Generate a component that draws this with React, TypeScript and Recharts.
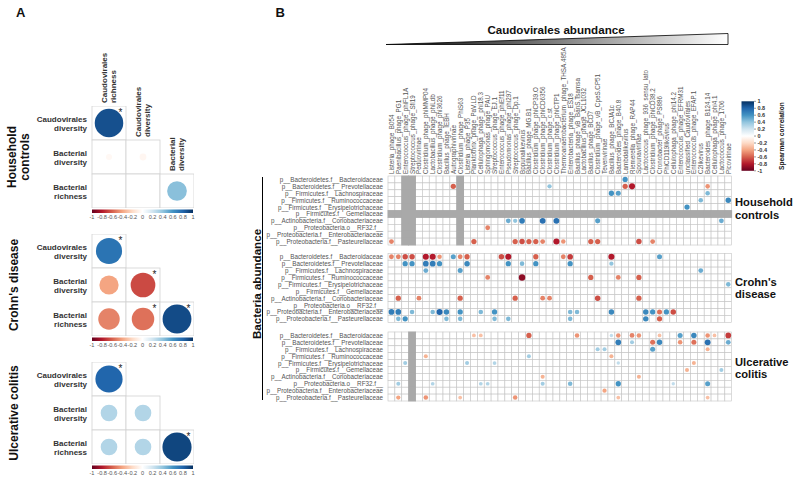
import React from 'react';
import { ScatterChart, Scatter, XAxis, YAxis } from 'recharts';

const FONT = '"Liberation Sans", Arial, Helvetica, sans-serif';

// ---------- Panel B data ----------
const phageColumns = [
  'Listeria_phage_B054', 'Paenibacillus_phage_PG1', 'Enterococcus_phage_phiFL1A', 'Streptococcus_phage_Sfi19',
  'Peduovirinae', 'Clostridium_phage_phiMMP04', 'Lactobacillus_phage_phiLdb', 'Clostridium_phage_phi3626',
  'Bacillus_phage_IEBH', 'Autographivirinae', 'Clostridium_phage_PhiS63', 'Listeria_phage_P35',
  'Planktothrix_phage_PaV.LD', 'Cellulophaga_phage_phi18.3', 'Sphingomonas_phage_PAU', 'Streptococcus_phage_EJ.1',
  'Enterococcus_phage_phiEf11', 'Pseudomonas_phage_phi297', 'Streptococcus_phage_Dp.1', 'Bppunalikevirus',
  'Bacillus_phage_MG.B1', 'Clostridium_phage_phiCP39.O', 'Clostridium_phage_phiCD6356', 'Clostridium_phage_c.st',
  'Clostridium_phage_phiCTP1', 'Thermoanaerobacterium_phage_THSA.485A', 'Enterobacteria_phage_ES18',
  'Bacillus_phage_vB_BanS.Tsamsa', 'Lactobacillus_phage_JCL1032', 'Bacillus_phage_BCD7',
  'Clostridium_phage_vB_CpeS.CP51', 'Tevenvirinae', 'Bacillus_phage_BCJA1c', 'Bacteroides_phage_B40.8',
  'Lambdalikevirus', 'Riemerella_phage_RAP44', 'Spounavirinae', 'Lactococcus_phage_936_sensu_lato',
  'Clostridium_phage_phiCD38.2', 'Cronobacter_phage_PS886', 'PhiCD119likevirus', 'Cellulophaga_phage_phi14.2',
  'Enterococcus_phage_EFRM31', 'unclassified_Caudovirales', 'Enterococcus_phage_EFAP.1', 'C2likevirus',
  'Bacteroides_phage_B124.14', 'Cellulophaga_phage_phi4.1', 'Lactococcus_phage_1706', 'Picovirinae',
];

const bacteriaRows = [
  'p__Bacteroidetes.f__Bacteroidaceae',
  'p__Bacteroidetes.f__Prevotellaceae',
  'p__Firmicutes.f__Lachnospiraceae',
  'p__Firmicutes.f__Ruminococcaceae',
  'p__Firmicutes.f__Erysipelotrichaceae',
  'p__Firmicutes.f__Gemellaceae',
  'p__Actinobacteria.f__Coriobacteriaceae',
  'p__Proteobacteria.o__RF32.f__',
  'p__Proteobacteria.f__Enterobacteriaceae',
  'p__Proteobacteria.f__Pasteurellaceae',
];

// [row, column, spearman rho]
const householdDots: [number, number, number][] = [
  [0, 34, 0.6],
  [1, 9, -0.6], [1, 23, 0.4], [1, 34, -0.6], [1, 35, -0.8], [1, 46, -0.45],
  [2, 32, 0.6], [2, 33, 0.55], [2, 46, 0.45],
  [3, 45, 0.45], [3, 49, 0.65],
  [4, 43, 0.6],
  [6, 17, 0.5], [6, 18, 0.4], [6, 19, 0.7], [6, 22, 0.75], [6, 24, 0.75], [6, 30, 0.55], [6, 48, 0.5],
  [7, 14, -0.5],
  [9, 0, -0.5], [9, 12, -0.6], [9, 18, -0.6], [9, 19, -0.65], [9, 20, -0.6], [9, 21, -0.6], [9, 22, -0.5],
  [9, 24, -0.8], [9, 25, -0.45], [9, 29, -0.6], [9, 30, -0.6], [9, 36, -0.65], [9, 38, -0.5],
];

const crohnDots: [number, number, number][] = [
  [0, 0, -0.5], [0, 1, -0.5], [0, 2, -0.65], [0, 3, -0.65], [0, 5, -0.8], [0, 6, -0.8], [0, 7, -0.45],
  [0, 9, 0.55], [0, 10, -0.5], [0, 11, -0.6], [0, 16, -0.65], [0, 17, -0.8], [0, 21, -0.6], [0, 25, -0.5],
  [0, 26, -0.7], [0, 32, -0.8], [0, 39, 0.55],
  [1, 2, 0.6], [1, 3, 0.6], [1, 5, 0.7], [1, 6, 0.7], [1, 7, 0.6], [1, 11, 0.65], [1, 17, 0.6], [1, 19, 0.45],
  [1, 21, 0.6], [1, 26, 0.6], [1, 32, 0.4],
  [2, 5, 0.5], [2, 10, 0.55], [2, 45, 0.5],
  [3, 14, -0.5], [3, 19, -0.9], [3, 29, -0.6], [3, 33, -0.5], [3, 36, -0.6],
  [4, 49, 0.45],
  [6, 1, -0.6], [6, 4, -0.5], [6, 10, -0.6], [6, 18, -0.6], [6, 22, -0.5], [6, 23, -0.5], [6, 30, -0.65], [6, 36, -0.6],
  [8, 0, 0.7], [8, 1, 0.7], [8, 3, 0.45], [8, 6, 0.45], [8, 7, 0.8], [8, 8, 0.65], [8, 10, 0.6], [8, 13, 0.45],
  [8, 15, 0.6], [8, 26, 0.45], [8, 27, 0.45], [8, 32, 0.65], [8, 37, 0.65], [8, 38, 0.6], [8, 39, -0.55],
  [8, 40, 0.6], [8, 41, -0.65],
  [9, 1, 0.45], [9, 2, 0.6], [9, 8, 0.45], [9, 10, 0.45], [9, 15, 0.45], [9, 17, 0.45], [9, 26, 0.45],
  [9, 37, 0.65], [9, 39, -0.6],
];

const ucDots: [number, number, number][] = [
  [0, 12, -0.3], [0, 13, -0.3], [0, 20, -0.6], [0, 27, -0.45], [0, 32, 0.25], [0, 33, -0.45], [0, 35, -0.5],
  [0, 36, -0.45], [0, 39, -0.3], [0, 42, 0.55], [0, 44, 0.65], [0, 46, -0.45], [0, 47, -0.3], [0, 49, -0.7],
  [1, 33, 0.7], [1, 35, 0.35], [1, 38, -0.55], [1, 39, 0.65], [1, 42, -0.45], [1, 44, -0.55], [1, 46, 0.75], [1, 49, 0.5],
  [2, 30, 0.35], [2, 31, 0.35], [2, 38, 0.55], [2, 46, -0.35],
  [3, 5, -0.35], [3, 20, 0.35], [3, 32, -0.35],
  [4, 2, 0.35], [4, 11, 0.35], [4, 15, 0.3], [4, 33, 0.25], [4, 44, -0.35],
  [5, 43, -0.35], [5, 48, 0.35],
  [6, 22, -0.35], [6, 36, -0.35],
  [7, 1, 0.35], [7, 6, 0.3], [7, 13, 0.3], [7, 14, 0.3], [7, 22, 0.35], [7, 26, 0.45], [7, 33, 0.6],
  [7, 41, 0.25], [7, 46, 0.55],
  [8, 31, -0.4],
  [9, 1, -0.4], [9, 5, -0.45], [9, 10, -0.3], [9, 18, -0.45], [9, 33, -0.3], [9, 46, -0.3],
];

// columns / rows with missing values (grey)
const householdGreyCols = [2, 3, 10];
const householdGreyRows = [5];
const crohnGreyCols: number[] = [];
const crohnGreyRows: number[] = [];
const ucGreyCols = [3];
const ucGreyRows: number[] = [];

const groupLabels = [['Household', 'controls'], ["Crohn's", 'disease'], ['Ulcerative', 'colitis']];

// ---------- Panel A data ----------
const diversityRowLabels = [['Caudovirales', 'diversity'], ['Bacterial', 'diversity'], ['Bacterial', 'richness']];
const diversityColLabels = [['Caudovirales', 'richness'], ['Caudovirales', 'diversity'], ['Bacterial', 'diversity']];
// [row, col, rho, significant]
const householdCorr: [number, number, number, boolean][] = [
  [0, 0, 0.88, true], [1, 0, -0.04, false], [1, 1, -0.05, false], [2, 0, 0, false], [2, 1, 0, false], [2, 2, 0.42, false],
];
const crohnCorr: [number, number, number, boolean][] = [
  [0, 0, 0.74, true], [1, 0, -0.4, false], [1, 1, -0.66, true], [2, 0, -0.5, false], [2, 1, -0.55, true], [2, 2, 0.9, true],
];
const ucCorr: [number, number, number, boolean][] = [
  [0, 0, 0.8, true], [1, 0, 0.3, false], [1, 1, 0.3, false], [2, 0, 0.3, false], [2, 1, 0.3, false], [2, 2, 0.92, true],
];
const colorbarTicksA = [-1, -0.8, -0.6, -0.4, -0.2, 0, 0.2, 0.4, 0.6, 0.8, 1];
const colorbarTicksB = [1, 0.8, 0.6, 0.4, 0.2, 0, -0.2, -0.4, -0.6, -0.8, -1];

// ---------- colour ----------
const RDBU = ['#67001F', '#B2182B', '#D6604D', '#F4A582', '#FDDBC7', '#FFFFFF', '#D1E5F0', '#92C5DE', '#4393C3', '#2166AC', '#053061'];
function mixHex(a: string, b: string, t: number) {
  const pa = [1, 3, 5].map((i) => parseInt(a.slice(i, i + 2), 16));
  const pb = [1, 3, 5].map((i) => parseInt(b.slice(i, i + 2), 16));
  const c = pa.map((v, i) => Math.round(v + (pb[i] - v) * t));
  return `rgb(${c[0]},${c[1]},${c[2]})`;
}
function colorFor(v: number) {
  const t = ((Math.max(-1, Math.min(1, v)) + 1) / 2) * 10;
  const i = Math.min(9, Math.floor(t));
  return mixHex(RDBU[i], RDBU[i + 1], t - i);
}

// ---------- Panel B layout ----------
const B_LEFT = 250;
const B_W = 500;
const B_H = 481;
const PX0 = 388, PX1 = 731.7, PY0 = 176, PY1 = 401;
const Y_MAX = 32.6;
const blockOffsets = [0, 11.2, 22.6];
const CW = (PX1 - PX0) / phageColumns.length;
const CH = (PY1 - PY0) / Y_MAX;

const groupsB = [
  { dots: householdDots, greyCols: householdGreyCols, greyRows: householdGreyRows },
  { dots: crohnDots, greyCols: crohnGreyCols, greyRows: crohnGreyRows },
  { dots: ucDots, greyCols: ucGreyCols, greyRows: ucGreyRows },
];

const cellData: { x: number; y: number }[] = [];
const greyData: { x: number; y: number }[] = [];
const dotData: { x: number; y: number; v: number }[] = [];
const rowTicks: number[] = [];
const rowTickLabel: Record<string, string> = {};
groupsB.forEach((g, b) => {
  const off = blockOffsets[b];
  bacteriaRows.forEach((name, r) => {
    const y = off + r + 0.5;
    rowTicks.push(y);
    rowTickLabel[y.toFixed(2)] = name;
    phageColumns.forEach((_, c) => {
      const x = c + 0.5;
      cellData.push({ x, y });
      if (g.greyCols.includes(c) || g.greyRows.includes(r)) greyData.push({ x, y });
    });
  });
  g.dots.forEach(([r, c, v]) => dotData.push({ x: c + 0.5, y: off + r + 0.5, v }));
});
const colTicks = phageColumns.map((_, i) => i + 0.5);

const CellShape = (p: any) => (
  <rect x={p.cx - CW / 2} y={p.cy - CH / 2} width={CW} height={CH} fill="#ffffff" stroke="#c4c4c4" strokeWidth={0.6} />
);
const GreyShape = (p: any) => (
  <rect x={p.cx - CW / 2 - 0.4} y={p.cy - CH / 2 - 0.4} width={CW + 0.8} height={CH + 0.8} fill="#a9a9a9" />
);
const DotShape = (p: any) => {
  const v = p.payload.v as number;
  return <circle cx={p.cx} cy={p.cy} r={3.4 * Math.sqrt(Math.abs(v))} fill={colorFor(v)} />;
};
const ColTick = (p: any) => {
  const i = Math.round(p.payload.value - 0.5);
  return (
    <text x={p.x} y={p.y} transform={`rotate(-90 ${p.x} ${p.y})`} textAnchor="start" dominantBaseline="central"
      fontSize={6.3} fill="#555" fontFamily={FONT}>{phageColumns[i]}</text>
  );
};
const RowTickB = (p: any) => (
  <text x={p.x} y={p.y} textAnchor="end" dominantBaseline="central" fontSize={6.3} fill="#555" fontFamily={FONT}>
    {rowTickLabel[Number(p.payload.value).toFixed(2)]}
  </text>
);

// ---------- Panel A layout ----------
const A_CELL = 34;
const A_YAXIS_W = 92;
const A_TOPS = [106, 234, 362];

const RowTickA = (p: any) => {
  const lab = diversityRowLabels[Math.round(p.payload.value)];
  return (
    <text x={p.x} y={p.y} textAnchor="end" fontSize={8} fontWeight="bold" fill="#333" fontFamily={FONT}>
      <tspan x={p.x} dy={-1}>{lab[0]}</tspan>
      <tspan x={p.x} dy={8.5}>{lab[1]}</tspan>
    </text>
  );
};
const CorrShape = (p: any) => {
  const { v, s } = p.payload;
  const rad = 15.2 * Math.sqrt(Math.abs(v));
  return (
    <g>
      <rect x={p.cx - A_CELL / 2} y={p.cy - A_CELL / 2} width={A_CELL} height={A_CELL} fill="#fff" stroke="#d2d2d2" strokeWidth={0.8} />
      {rad > 0.3 && <circle cx={p.cx} cy={p.cy} r={rad} fill={colorFor(v)} />}
      {s && (
        <text x={p.cx + A_CELL / 2 - 5.5} y={p.cy - A_CELL / 2 + 10} textAnchor="middle" fontSize={10} fill="#222" fontFamily={FONT}>*</text>
      )}
    </g>
  );
};

function CorrMatrix({ top, cells }: { top: number; cells: [number, number, number, boolean][] }) {
  const data = cells.map(([r, c, v, s]) => ({ x: c, y: r, v, s }));
  return (
    <div style={{ position: 'absolute', left: 0, top, width: A_YAXIS_W + 3 * A_CELL, height: 3 * A_CELL }}>
      <ScatterChart width={A_YAXIS_W + 3 * A_CELL} height={3 * A_CELL} margin={{ top: 0, right: 0, bottom: 0, left: 0 }}>
        <XAxis type="number" dataKey="x" domain={[-0.5, 2.5]} hide />
        <YAxis type="number" dataKey="y" domain={[-0.5, 2.5]} reversed ticks={[0, 1, 2]} interval={0}
          width={A_YAXIS_W} tickSize={0} tickMargin={5} axisLine={false} tickLine={false} tick={<RowTickA />} />
        <Scatter data={data} shape={CorrShape} isAnimationActive={false} />
      </ScatterChart>
    </div>
  );
}

function Decorations() {
  const barX0 = 92, barX1 = 193;
  return (
    <svg width={800} height={481} style={{ position: 'absolute', left: 0, top: 0 }} fontFamily={FONT}>
      <defs>
        <linearGradient id="gradA" x1="0" y1="0" x2="1" y2="0">
          {RDBU.map((c, i) => <stop key={i} offset={i / 10} stopColor={c} />)}
        </linearGradient>
        <linearGradient id="gradB" x1="0" y1="1" x2="0" y2="0">
          {RDBU.map((c, i) => <stop key={i} offset={i / 10} stopColor={c} />)}
        </linearGradient>
        <linearGradient id="wedge" x1="0" y1="0" x2="1" y2="0">
          <stop offset="0" stopColor="#000" />
          <stop offset="1" stopColor="#fff" />
        </linearGradient>
      </defs>
      {/* Panel letters */}
      <text x={16} y={17} fontSize={13} fontWeight="bold" fill="#111">A</text>
      <text x={275.5} y={17} fontSize={13} fontWeight="bold" fill="#111">B</text>

      {/* Panel A group labels */}
      {A_TOPS.map((t, g) => {
        const cy = t + (3 * A_CELL) / 2;
        const twoLine = g === 0;
        return twoLine ? (
          <g key={g}>
            <text x={12} y={cy} transform={`rotate(-90 12 ${cy})`} textAnchor="middle" dominantBaseline="central" fontSize={12} fontWeight="bold" fill="#111">Household</text>
            <text x={25} y={cy} transform={`rotate(-90 25 ${cy})`} textAnchor="middle" dominantBaseline="central" fontSize={12} fontWeight="bold" fill="#111">controls</text>
          </g>
        ) : (
          <text key={g} x={14} y={cy} transform={`rotate(-90 14 ${cy})`} textAnchor="middle" dominantBaseline="central" fontSize={12} fontWeight="bold" fill="#111">
            {groupLabels[g].join(' ')}
          </text>
        );
      })}

      {/* Panel A diagonal column headers (household) */}
      {diversityColLabels.map((lab, j) => {
        const cx = A_YAXIS_W + (j + 0.5) * A_CELL;
        const by = A_TOPS[0] + j * A_CELL - 3;
        return (
          <g key={j}>
            <text x={cx - 4.5} y={by} transform={`rotate(-90 ${cx - 4.5} ${by})`} dominantBaseline="central" fontSize={8} fontWeight="bold" fill="#333">{lab[0]}</text>
            <text x={cx + 4.5} y={by} transform={`rotate(-90 ${cx + 4.5} ${by})`} dominantBaseline="central" fontSize={8} fontWeight="bold" fill="#333">{lab[1]}</text>
          </g>
        );
      })}

      {/* Panel A colour bars */}
      {A_TOPS.map((t, g) => {
        const y = t + 3 * A_CELL + 1.5;
        return (
          <g key={g}>
            <rect x={barX0} y={y} width={barX1 - barX0} height={3.5} fill="url(#gradA)" />
            {colorbarTicksA.map((v) => (
              <text key={v} x={barX0 + ((v + 1) / 2) * (barX1 - barX0)} y={y + 9} textAnchor="middle" fontSize={5.6} fill="#555">{String(v)}</text>
            ))}
          </g>
        );
      })}

      {/* Panel B title and wedge */}
      <text x={556} y={34} textAnchor="middle" fontSize={11.6} fontWeight="bold" fill="#111">Caudovirales abundance</text>
      <polygon points="386,44.5 728,33.5 728,44.5" fill="url(#wedge)" stroke="#000" strokeWidth={0.8} />

      {/* Bacteria abundance */}
      <text x={256} y={284} transform="rotate(-90 256 284)" textAnchor="middle" dominantBaseline="central" fontSize={11.6} fontWeight="bold" fill="#111">Bacteria abundance</text>
      <line x1={262.5} y1={177} x2={262.5} y2={400} stroke="#000" strokeWidth={1} />

      {/* Block labels */}
      {[[202, 214.5], [281.5, 294], [361.5, 374]].map((ys, g) => (
        <g key={g}>
          <text x={735} y={ys[0]} dominantBaseline="central" fontSize={11.2} fontWeight="bold" fill="#111">{groupLabels[g][0]}</text>
          <text x={735} y={ys[1]} dominantBaseline="central" fontSize={11.2} fontWeight="bold" fill="#111">{groupLabels[g][1]}</text>
        </g>
      ))}

      {/* Panel B colour bar */}
      <rect x={741.5} y={101.3} width={12.5} height={69.5} fill="url(#gradB)" />
      {colorbarTicksB.map((v, i) => {
        const y = 101.3 + (i * 69.5) / 10;
        return (
          <g key={v}>
            <line x1={754} x2={756} y1={y} y2={y} stroke="#333" strokeWidth={0.5} />
            <text x={757.5} y={y} dominantBaseline="central" fontSize={5.5} fontWeight="bold" fill="#333">{String(v)}</text>
          </g>
        );
      })}
      <text x={781} y={136} transform="rotate(-90 781 136)" textAnchor="middle" dominantBaseline="central" fontSize={6.6} fontWeight="bold" fill="#222">Spearman correlation</text>
    </svg>
  );
}

export default function App() {
  return (
    <div style={{ position: 'absolute', left: 0, top: 0, width: 800, height: 481, background: '#fff', fontFamily: FONT, overflow: 'hidden' }}>
      <Decorations />
      <CorrMatrix top={A_TOPS[0]} cells={householdCorr} />
      <CorrMatrix top={A_TOPS[1]} cells={crohnCorr} />
      <CorrMatrix top={A_TOPS[2]} cells={ucCorr} />
      <div style={{ position: 'absolute', left: B_LEFT, top: 0, width: B_W, height: B_H }}>
        <ScatterChart width={B_W} height={B_H} margin={{ top: PY0 - 120, left: PX0 - B_LEFT - 130, right: B_LEFT + B_W - PX1, bottom: B_H - PY1 }}>
          <XAxis type="number" dataKey="x" domain={[0, phageColumns.length]} ticks={colTicks} interval={0} orientation="top"
            height={120} tickSize={0} tickMargin={2} axisLine={false} tickLine={false} tick={<ColTick />} />
          <YAxis type="number" dataKey="y" domain={[0, Y_MAX]} reversed ticks={rowTicks} interval={0} width={130}
            tickSize={0} tickMargin={5} axisLine={false} tickLine={false} tick={<RowTickB />} />
          <Scatter data={cellData} shape={CellShape} isAnimationActive={false} />
          <Scatter data={greyData} shape={GreyShape} isAnimationActive={false} />
          <Scatter data={dotData} shape={DotShape} isAnimationActive={false} />
        </ScatterChart>
      </div>
    </div>
  );
}
